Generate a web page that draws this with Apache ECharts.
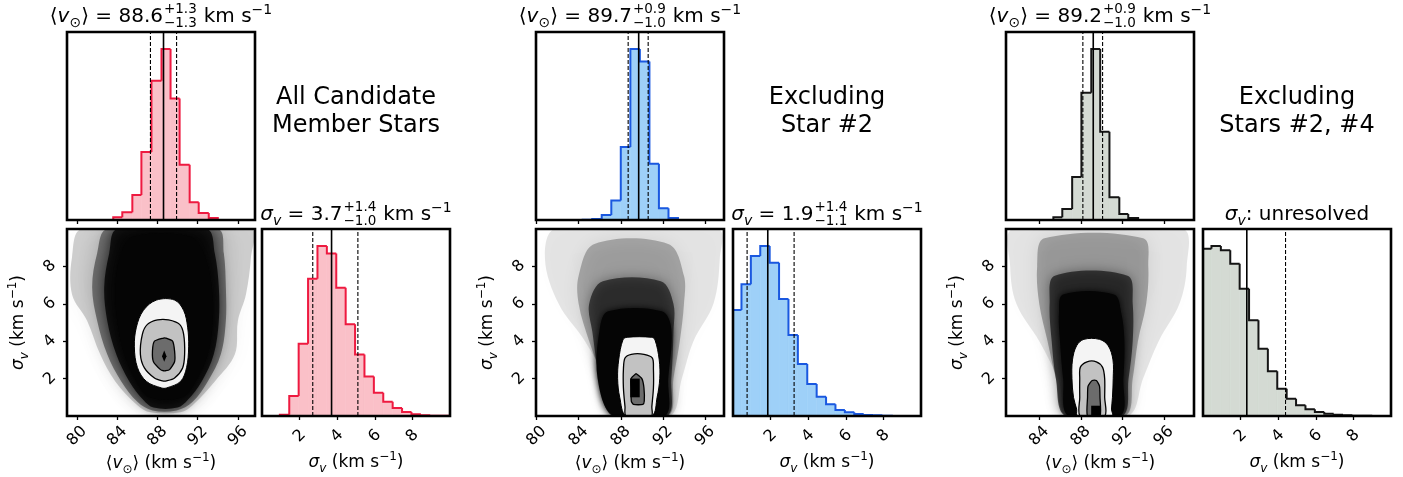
<!DOCTYPE html>
<html><head><meta charset="utf-8">
<script src="https://cdn.jsdelivr.net/npm/echarts@6/dist/echarts.min.js"></script>
<style>html,body{margin:0;padding:0;background:#fff}#c{width:1403px;height:477px}</style>
</head><body><div id="c"></div>
<script>
// ================= DATA =================
const vTicksA = [80, 84, 88, 92, 96];
const vTicksB = [84, 88, 92, 96];
const sigmaTicks = [2, 4, 6, 8];

const panelTitles = ['All Candidate\nMember Stars', 'Excluding\nStar #2', 'Excluding\nStars #2, #4'];

// <v> histograms (bin edges, relative counts)
const p1VEdges = [83.6, 84.5, 85.5, 86.4, 87.4, 88.4, 89.3, 90.2, 91.2, 92.1, 93.1, 94.0];
const p1VCounts = [8, 23, 75, 203, 416, 511, 363, 165, 53, 21, 6];
const p2VEdges = [84.38, 85.29, 86.19, 87.10, 88.0, 88.91, 89.81, 90.72, 91.62, 92.53, 93.43];
const p2VCounts = [1, 3, 15, 58, 218, 510, 473, 168, 35, 6];
const p3VEdges = [85.36, 86.22, 87.17, 88.06, 89.01, 89.87, 90.76, 91.71, 92.57, 93.52];
const p3VCounts = [8, 33, 128, 380, 510, 263, 68, 18, 6];

// sigma_v histograms
const p1SEdges = [0.95, 1.45, 1.95, 2.45, 2.95, 3.45, 3.95, 4.45, 4.95, 5.45, 5.95, 6.45, 6.95, 7.45, 7.95, 8.45, 8.95, 9.45, 9.95];
const p1SCounts = [4, 59, 214, 407, 504, 482, 380, 272, 182, 117, 69, 42, 24, 12, 5, 2, 1, 0.5];
const p2SEdges = [0, 0.45, 0.95, 1.45, 1.95, 2.45, 2.95, 3.45, 3.95, 4.45, 4.95, 5.45, 5.95, 6.45, 6.95, 7.45, 7.95, 8.45];
const p2SCounts = [318, 395, 480, 510, 460, 351, 243, 156, 96, 58, 35, 18, 11, 6, 3, 2, 1];
const p3SEdges = [0, 0.45, 0.95, 1.45, 1.95, 2.45, 2.95, 3.45, 3.95, 4.45, 4.95, 5.45, 5.95, 6.45, 6.95, 7.45, 7.95, 8.45, 8.95];
const p3SCounts = [502, 510, 497, 457, 382, 287, 202, 134, 82, 52, 32, 20, 12, 7, 4, 2, 1, 0.5];

// quantiles [low, median, high]  (dashed, solid, dashed)
const p1VQuant = [87.3, 88.6, 89.9];
const p1SQuant = [2.7, 3.7, 5.1];
const p2VQuant = [88.7, 89.7, 90.6];
const p2SQuant = [0.75, 1.85, 3.25];
const p3VQuant = [88.2, 89.2, 90.1];
const p3SLimits = [2.33, 4.39];          // solid, dashed (upper limits)

// annotation values [value, +err, -err]
const p1VText = ['88.6', '+1.3', '\u22121.3'];
const p1SText = ['3.7', '+1.4', '\u22121.0'];
const p2VText = ['89.7', '+0.9', '\u22121.0'];
const p2SText = ['1.9', '+1.4', '\u22121.1'];
const p3VText = ['89.2', '+0.9', '\u22121.0'];

// 2-D posterior regions: rows [sigma, vLeft, vRight], top to bottom
const p1DotsOuter = [[10, 80.5, 97.3], [8.5, 79.5, 97.3], [6.5, 79.5, 96.8], [5.1, 81.0, 96.0], [3.3, 82.3, 95.7], [1.85, 83.8, 93.7], [0.58, 86.0, 91.5], [0.2, 87.3, 90.3]];
const p1DotsDense = [[10, 83.0, 94.0], [8.7, 82.0, 94.6], [6.9, 81.5, 94.8], [5.1, 82.0, 94.8], [3.3, 83.0, 94.3], [1.85, 84.4, 93.0], [0.76, 86.0, 91.5], [0.3, 87.5, 89.9]];
const p1DotsDark = [[10, 84.0, 92.9], [8.7, 83.2, 93.7], [6.9, 82.7, 94.1], [5.1, 83.0, 94.1], [3.3, 83.9, 93.6], [1.85, 85.2, 92.4], [0.85, 86.6, 91.0], [0.45, 87.6, 90.0]];
const p1DotsCore = [[9.6, 85.6, 91.2], [8.7, 84.4, 92.6], [6.9, 83.8, 93.4], [5.1, 84.0, 93.5], [3.3, 84.7, 93.0], [1.85, 85.9, 91.8], [1.0, 87.2, 90.5]];
const p1Contour1 = [[6.2, 87.9, 89.7], [5.65, 86.6, 90.6], [4.75, 85.9, 91.0], [3.7, 85.7, 91.1], [2.6, 86.0, 90.9], [1.85, 86.9, 90.3], [1.5, 88.4, 88.9]];
const p1Contour2 = [[5.14, 88.0, 89.1], [4.9, 87.0, 90.2], [4.38, 86.5, 90.6], [3.3, 86.3, 90.7], [2.57, 86.7, 90.5], [2.03, 87.7, 89.7], [1.88, 88.5, 88.9]];
const p1Contour3 = [[4.17, 88.6, 88.8], [4.0, 87.7, 89.5], [3.48, 87.5, 89.7], [2.9, 87.6, 89.7], [2.48, 88.3, 89.2], [2.42, 88.6, 88.8]];
const p1Peak = [[3.5, 88.67, 88.67], [3.2, 88.45, 88.9], [2.9, 88.67, 88.67]];

const p2DotsOuter = [[10, 81.8, 97.2], [8.4, 80.8, 97.4], [6, 82.1, 96.8], [4, 84.6, 94.9], [2, 86.5, 93.8], [0, 87.6, 92.7]];
const p2DotsDense = [[9.2, 85.5, 92.5], [7.5, 84.0, 94.0], [6, 84.0, 94.0], [4, 85.0, 93.6], [2, 86.3, 93.0], [0, 87.5, 92.5]];
const p2DotsDark = [[7.2, 86.3, 91.8], [6, 85.0, 93.0], [4.5, 85.3, 93.0], [2, 86.0, 92.8], [0, 87.2, 92.4]];
const p2DotsCore = [[5.6, 86.8, 91.9], [4.65, 86.0, 92.8], [2.0, 85.8, 92.5], [0, 87.3, 92.2]];
const p2Contour1 = [[4.21, 88.6, 90.9], [4.07, 88.2, 91.25], [3.0, 87.8, 91.65], [2.0, 87.7, 91.7], [1.0, 87.9, 91.45], [0, 88.5, 90.95]];
const p2Contour2 = [[3.3, 89.0, 90.2], [3.1, 88.4, 91.0], [2.5, 88.25, 91.1], [1.5, 88.25, 91.1], [0.5, 88.4, 90.95], [0, 88.5, 90.9]];
const p2Contour3 = [[2.25, 89.4, 89.5], [2.0, 88.97, 90.0], [1.5, 88.97, 90.2], [0.8, 89.0, 90.23], [0.62, 89.2, 90.1]];
const p2Peak = [[2.0, 88.9, 89.8], [1.0, 88.9, 89.8]];

const p3DotsOuter = [[10, 81.5, 97.8], [8, 81.2, 98.2], [6, 81.8, 97.5], [4, 84.0, 95.5], [2, 85.8, 94.0], [0, 87.0, 92.6]];
const p3DotsDense = [[9.5, 84.5, 94.0], [8, 83.8, 94.5], [6, 84.0, 94.3], [4, 84.8, 93.5], [2, 85.6, 93.0], [0, 86.6, 92.3]];
const p3DotsDark = [[7.5, 85.5, 92.5], [6, 85.0, 93.0], [4, 85.2, 93.0], [2, 85.6, 92.6], [0, 86.5, 92.0]];
const p3DotsCore = [[6.5, 86.3, 91.2], [5.5, 85.9, 91.9], [4, 86.0, 92.2], [2, 86.3, 92.1], [0, 86.8, 91.8]];
const p3Contour1 = [[4.1, 88.3, 89.8], [3.76, 87.6, 90.64], [3.0, 87.2, 91.1], [2.0, 87.15, 91.12], [1.0, 87.3, 91.05], [0.37, 87.6, 90.96], [0, 87.7, 91.0]];
const p3Contour2 = [[2.9, 88.6, 89.5], [2.6, 87.95, 90.1], [2.0, 87.9, 90.3], [1.0, 87.9, 90.3], [0, 87.95, 90.3]];
const p3Contour3 = [[1.9, 89.1, 89.5], [1.6, 88.7, 89.8], [1.0, 88.65, 89.85], [0, 88.65, 89.85]];
const p3Peak = [[0.55, 89.0, 89.85], [0, 89.0, 89.85]];

// ================= LAYOUT / STYLE =================
const FONT = 'DejaVu Sans';
const panels = [
  { left: 67, sLeft: 262, vMin: 79.0, vMax: 97.7, vTicks: vTicksA,
    vEdges: p1VEdges, vCounts: p1VCounts, sEdges: p1SEdges, sCounts: p1SCounts,
    vQ: p1VQuant, sQ: p1SQuant, sLim: null, vText: p1VText, sText: p1SText,
    fill: '#fac0c8', stroke: '#ee1a40',
    regions: [p1DotsOuter, p1DotsDense, p1DotsDark, p1DotsCore, p1Contour1, p1Contour2, p1Contour3, p1Peak],
    alphas: [0.18, 0.42, 0.78] },
  { left: 536, sLeft: 733, vMin: 79.95, vMax: 97.8, vTicks: vTicksA,
    vEdges: p2VEdges, vCounts: p2VCounts, sEdges: p2SEdges, sCounts: p2SCounts,
    vQ: p2VQuant, sQ: p2SQuant, sLim: null, vText: p2VText, sText: p2SText,
    fill: '#9ed0f8', stroke: '#1a58e0',
    regions: [p2DotsOuter, p2DotsDense, p2DotsDark, p2DotsCore, p2Contour1, p2Contour2, p2Contour3, p2Peak],
    alphas: [0.1, 0.26, 0.58] },
  { left: 1006, sLeft: 1203, vMin: 80.8, vMax: 98.9, vTicks: vTicksB,
    vEdges: p3VEdges, vCounts: p3VCounts, sEdges: p3SEdges, sCounts: p3SCounts,
    vQ: p3VQuant, sQ: null, sLim: p3SLimits, vText: p3VText, sText: null,
    fill: '#d4dad3', stroke: '#151515',
    regions: [p3DotsOuter, p3DotsDense, p3DotsDark, p3DotsCore, p3Contour1, p3Contour2, p3Contour3, p3Peak],
    alphas: [0.1, 0.28, 0.6] }
];
const W = 188, TOP1 = 32, H1 = 188, TOP2 = 229, H2 = 187;

const mctx = document.createElement('canvas').getContext('2d');
function tw(text, size, italic) {
  mctx.font = (italic ? 'italic ' : '') + size + 'px "' + FONT + '"';
  return mctx.measureText(text).width;
}

function histRows(edges, counts) {
  return counts.map((c, i) => [edges[i], edges[i + 1], c, i === 0 ? 0 : counts[i - 1], i === counts.length - 1 ? 1 : 0]);
}
function histRender(fill, stroke) {
  return function (params, api) {
    const x0 = api.value(0), x1 = api.value(1), h = api.value(2), hp = api.value(3), last = api.value(4);
    const a = api.coord([x0, 0]), b = api.coord([x1, h]);
    const pts = [api.coord([x0, hp]), api.coord([x0, h]), b];
    if (last) pts.push(api.coord([x1, 0]));
    return { type: 'group', children: [
      { type: 'rect', shape: { x: a[0], y: b[1], width: b[0] - a[0], height: a[1] - b[1] },
        style: { fill: fill, stroke: fill, lineWidth: 0.6 } },
      { type: 'polyline', z2: 5, shape: { points: pts }, style: { stroke: stroke, lineWidth: 2, fill: null } }
    ] };
  };
}
function regionPoints(rows, api) {
  const pts = [];
  rows.forEach(r => pts.push(api.coord([r[1], r[0]])));
  for (let i = rows.length - 1; i >= 0; i--) pts.push(api.coord([rows[i][2], rows[i][0]]));
  return pts;
}
function regionRender(P) {
  const c = a => 'rgba(0,0,0,' + a + ')';
  const styles = [
    { fill: c(P.alphas[0]), smooth: 0.35, blur: 22 },
    { fill: c(P.alphas[1]), smooth: 0.35, blur: 18 },
    { fill: c(P.alphas[2]), smooth: 0.35, blur: 12 },
    { fill: '#050505', smooth: 0.35, blur: 6 },
    { fill: '#f4f4f4', stroke: '#000', lineWidth: 1, smooth: 0.35 },
    { fill: '#c2c2c2', stroke: '#000', lineWidth: 1.3, smooth: 0.3 },
    { fill: '#6c6c6c', stroke: '#000', lineWidth: 1.3, smooth: 0.2 },
    { fill: '#000', smooth: 0 }
  ];
  return function (params, api) {
    const i = params.dataIndex;
    const s = styles[i];
    const style = { fill: s.fill, stroke: s.stroke || null, lineWidth: s.lineWidth || 0 };
    if (s.blur) { style.shadowBlur = s.blur; style.shadowColor = s.fill; }
    return { type: 'polygon', shape: { points: regionPoints(P.regions[i], api), smooth: s.smooth }, style: style };
  };
}
function vline(x, y, xi, yi, dashed) {
  return { type: 'line', xAxisIndex: xi, yAxisIndex: yi, symbol: 'none', silent: true, z: 4,
    data: [[x, 0], [x, y]],
    lineStyle: { color: '#000', width: dashed ? 1.1 : 1.6, type: dashed ? [4, 2] : 'solid' } };
}

const tickStyle = { show: true, length: 4, lineStyle: { color: '#000', width: 1.3 } };
const labelStyle = { show: true, rotate: 45, align: 'center', verticalAlign: 'middle', fontSize: 16, fontFamily: FONT, color: '#000' };
const nameRich = {
  it: { fontStyle: 'italic', fontSize: 17, fontFamily: FONT, color: '#000' },
  o: { fontSize: 12, fontFamily: FONT, color: '#000', verticalAlign: 'bottom', lineHeight: 11 },
  iv: { fontStyle: 'italic', fontSize: 12, fontFamily: FONT, color: '#000', verticalAlign: 'bottom', lineHeight: 11 },
  p: { fontSize: 12, fontFamily: FONT, color: '#000', verticalAlign: 'top', lineHeight: 11 }
};
const nameStyle = { fontSize: 17, fontFamily: FONT, color: '#000', lineHeight: 24, rich: nameRich };
const vName = '\u27E8{it|v}{o|\u2299}\u27E9 (km s{p|\u22121})';
const sName = '{it|\u03C3}{iv|v} (km s{p|\u22121})';

const annRich = {
  it: { fontStyle: 'italic', fontSize: 20, fontFamily: FONT, color: '#000' },
  o: { fontSize: 14, fontFamily: FONT, color: '#000', verticalAlign: 'bottom', lineHeight: 12 },
  iv: { fontStyle: 'italic', fontSize: 14, fontFamily: FONT, color: '#000', verticalAlign: 'bottom', lineHeight: 12 },
  p: { fontSize: 14, fontFamily: FONT, color: '#000', verticalAlign: 'top', lineHeight: 12 }
};
function txt(text, x, y, size, align, rich) {
  return { type: 'text', silent: true, z: 20, style: {
    text: text, x: x, y: y, fontSize: size, fontFamily: FONT, fill: '#000',
    align: align, textAlign: align, verticalAlign: 'middle', textVerticalAlign: 'middle',
    lineHeight: 27, rich: rich } };
}
function annotation(cx, cy, kind, vals) {
  let main, wMain;
  if (kind === 'v') {
    main = '\u27E8{it|v}{o|\u2299}\u27E9 = ' + vals[0];
    wMain = tw('\u27E8', 20) + tw('v', 20, true) + tw('\u2299', 14) + tw('\u27E9 = ' + vals[0], 20);
  } else {
    main = '{it|\u03C3}{iv|v} = ' + vals[0];
    wMain = tw('\u03C3', 20, true) + tw('v', 14, true) + tw(' = ' + vals[0], 20);
  }
  const wStack = Math.max(tw(vals[1], 13.5), tw(vals[2], 13.5));
  const suffix = 'km s{p|\u22121}';
  const wSuf = tw('km s', 20) + tw('\u22121', 14);
  const gap = 7;
  const total = wMain + 1 + wStack + gap + wSuf;
  const x0 = cx - total / 2;
  return [
    txt(main, x0, cy, 20, 'left', annRich),
    txt(vals[1], x0 + wMain + 1, cy - 7, 13.5, 'left', annRich),
    txt(vals[2], x0 + wMain + 1, cy + 6.5, 13.5, 'left', annRich),
    txt(suffix, x0 + wMain + 1 + wStack + gap, cy, 20, 'left', annRich)
  ];
}

const option = { animation: false, backgroundColor: '#fff', grid: [], xAxis: [], yAxis: [], series: [], graphic: [] };

panels.forEach((P, p) => {
  const gT = 3 * p, gS = 3 * p + 1, gH = 3 * p + 2;
  const gridBase = { show: true, borderColor: '#000', borderWidth: 2.6, backgroundColor: 'transparent', z: 10 };
  option.grid.push(Object.assign({ left: P.left, top: TOP1, width: W, height: H1 }, gridBase));
  option.grid.push(Object.assign({ left: P.left, top: TOP2, width: W, height: H2 }, gridBase));
  option.grid.push(Object.assign({ left: P.sLeft, top: TOP2, width: W, height: H2 }, gridBase));

  const vYMax = 1.1 * Math.max.apply(null, P.vCounts);
  const sYMax = 1.1 * Math.max.apply(null, P.sCounts);

  option.xAxis.push({ type: 'value', gridIndex: gT, min: P.vMin, max: P.vMax, splitLine: { show: false },
    axisLine: { show: false }, axisTick: Object.assign({ customValues: P.vTicks }, tickStyle), axisLabel: { show: false } });
  option.yAxis.push({ type: 'value', gridIndex: gT, min: 0, max: vYMax, show: false });
  option.xAxis.push({ type: 'value', gridIndex: gS, min: P.vMin, max: P.vMax, splitLine: { show: false },
    axisLine: { show: false }, axisTick: Object.assign({ customValues: P.vTicks }, tickStyle),
    axisLabel: Object.assign({ customValues: P.vTicks, margin: 20 }, labelStyle),
    name: vName, nameLocation: 'middle', nameGap: 35, nameTextStyle: nameStyle });
  option.yAxis.push({ type: 'value', gridIndex: gS, min: 0, max: 10, splitLine: { show: false },
    axisLine: { show: false }, axisTick: Object.assign({ customValues: sigmaTicks }, tickStyle),
    axisLabel: Object.assign({ customValues: sigmaTicks, margin: 17 }, labelStyle),
    name: sName, nameLocation: 'middle', nameGap: 36, nameTextStyle: nameStyle });
  option.xAxis.push({ type: 'value', gridIndex: gH, min: 0, max: 10, splitLine: { show: false },
    axisLine: { show: false }, axisTick: Object.assign({ customValues: sigmaTicks }, tickStyle),
    axisLabel: Object.assign({ customValues: sigmaTicks, margin: 20 }, labelStyle),
    name: sName, nameLocation: 'middle', nameGap: 35, nameTextStyle: nameStyle });
  option.yAxis.push({ type: 'value', gridIndex: gH, min: 0, max: sYMax, show: false });

  option.series.push({ type: 'custom', xAxisIndex: gT, yAxisIndex: gT, clip: true, z: 2,
    data: histRows(P.vEdges, P.vCounts), encode: { x: [0, 1], y: 2 }, renderItem: histRender(P.fill, P.stroke) });
  option.series.push({ type: 'custom', xAxisIndex: gH, yAxisIndex: gH, clip: true, z: 2,
    data: histRows(P.sEdges, P.sCounts), encode: { x: [0, 1], y: 2 }, renderItem: histRender(P.fill, P.stroke) });
  option.series.push({ type: 'custom', xAxisIndex: gS, yAxisIndex: gS, clip: true, z: 2,
    data: P.regions.map((r, i) => [i]), renderItem: regionRender(P) });

  option.series.push(vline(P.vQ[0], vYMax, gT, gT, true));
  option.series.push(vline(P.vQ[1], vYMax, gT, gT, false));
  option.series.push(vline(P.vQ[2], vYMax, gT, gT, true));
  if (P.sQ) {
    option.series.push(vline(P.sQ[0], sYMax, gH, gH, true));
    option.series.push(vline(P.sQ[1], sYMax, gH, gH, false));
    option.series.push(vline(P.sQ[2], sYMax, gH, gH, true));
  } else {
    option.series.push(vline(P.sLim[0], sYMax, gH, gH, false));
    option.series.push(vline(P.sLim[1], sYMax, gH, gH, true));
  }

  const cxTop = P.left + W / 2, cxS = P.sLeft + W / 2;
  option.graphic.push(...annotation(cxTop, 16.5, 'v', P.vText));
  if (P.sText) option.graphic.push(...annotation(cxS, 214.5, 's', P.sText));
  else option.graphic.push(txt('{it|\u03C3}{iv|v}: unresolved', cxS, 214.5, 20, 'center', annRich));
  option.graphic.push({ type: 'text', silent: true, z: 20, style: {
    text: panelTitles[p], x: cxS, y: 112, fontSize: 24, fontFamily: FONT, fill: '#000',
    align: 'center', textAlign: 'center', verticalAlign: 'middle', textVerticalAlign: 'middle', lineHeight: 28 } });
});

const chart = echarts.init(document.getElementById('c'), null, { renderer: 'canvas', width: 1403, height: 477 });
chart.setOption(option);
</script>
</body></html>
